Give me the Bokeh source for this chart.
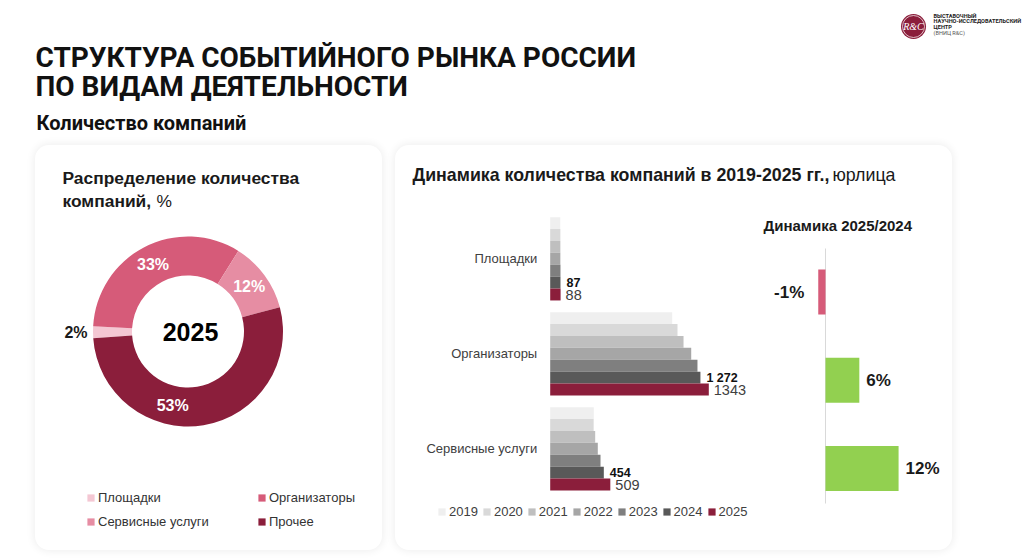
import numpy as np
from bokeh.plotting import figure
from bokeh.models import (ColumnDataSource, FactorRange, Range1d, Legend, LegendItem, Spacer)
from bokeh.layouts import row, column
from bokeh.transform import dodge
from bokeh.core.properties import value
from bokeh.embed import file_html
from bokeh.resources import INLINE

# ---------------- data ----------------
share_labels = ["Площадки", "Организаторы", "Сервисные услуги", "Прочее"]
share_values = [2, 33, 12, 53]
donut_year = "2025"

categories = ["Площадки", "Организаторы", "Сервисные услуги"]
years = ["2019", "2020", "2021", "2022", "2023", "2024", "2025"]
companies_2019 = [85, 1033, 369]
companies_2020 = [86, 1078, 368]
companies_2021 = [86, 1129, 381]
companies_2022 = [86, 1194, 403]
companies_2023 = [87, 1247, 426]
companies_2024 = [87, 1272, 454]
companies_2025 = [88, 1343, 509]
change_2025_2024 = [-1.2, 5.6, 12.1]   # %

# ---------------- styles ----------------
ARIAL = "Liberation Sans"
ROBOTO = "Roboto"
DARK = "#1a1a1a"
share_colors = ["#F4C7D3", "#D65B79", "#E68DA3", "#8B1E3B"]
year_colors = ["#EFEFEF", "#D9D9D9", "#BFBFBF", "#A6A6A6", "#7F7F7F", "#595959", "#8B1E3B"]
card_style = {"background-color": "white", "border-radius": "14px",
              "box-shadow": "0 0 8px 1px rgba(0,0,0,0.07)"}


def canvas(w, h):
    p = figure(width=w, height=h, x_range=Range1d(0, w), y_range=Range1d(0, h),
               toolbar_location=None, output_backend="svg", min_border=0,
               x_axis_location=None, y_axis_location=None, title_location=None)
    p.grid.visible = False
    p.outline_line_color = None
    p.background_fill_color = None
    p.border_fill_color = None
    return p


def txt(p, x, y, s, size, bold=False, color=DARK, font=ARIAL, align="left",
        baseline="middle", style=None):
    p.text(x=[x], y=[y], text=[s], text_font=value(font), text_font_size=size,
           text_font_style=style or ("bold" if bold else "normal"), text_color=color,
           text_align=align, text_baseline=baseline)


def factor_setup(n, frame_h, px_per_cat, top_center_px):
    """padding (applied on each side) of a FactorRange and a dodge shift so that
    the n categories are px_per_cat apart and the first one is top_center_px
    below the frame top."""
    pad = (frame_h / px_per_cat - n) / 2
    end = n + pad
    shift = end - (n - 0.5) - top_center_px / px_per_cat
    return pad, end, shift


# ---------------- header ----------------
H = 145
header = canvas(1024, H)
txt(header, 35, H - 57, "СТРУКТУРА СОБЫТИЙНОГО РЫНКА РОССИИ", "28px", True, "#111111", ROBOTO)
txt(header, 35, H - 85.5, "ПО ВИДАМ ДЕЯТЕЛЬНОСТИ", "28px", True, "#111111", ROBOTO)
txt(header, 36, H - 122, "Количество компаний", "20px", True, "#111111", ROBOTO)
# logo
header.circle(x=[913], y=[H - 26], radius=12.5, fill_color="#8B1E3B", line_color=None)
header.circle(x=[913], y=[H - 26], radius=11, fill_color=None, line_color="white", line_width=0.7)
txt(header, 913, H - 26, "R&C", "10px", False, "white", "Liberation Serif", "center", "middle", "italic")
txt(header, 933, H - 15, "ВЫСТАВОЧНЫЙ", "5.6px", True, "#222222", ROBOTO)
txt(header, 933, H - 20.7, "НАУЧНО-ИССЛЕДОВАТЕЛЬСКИЙ", "5.6px", True, "#222222", ROBOTO)
txt(header, 933, H - 26.3, "ЦЕНТР", "5.6px", True, "#222222", ROBOTO)
txt(header, 933, H - 32.5, "(ВНИЦ R&C)", "5.6px", False, "#555555", ROBOTO)

# ---------------- left card: donut ----------------
LW, LH = 347, 405
left = canvas(LW, LH)
txt(left, 27, LH - 32, "Распределение количества", "17.4px", True)
txt(left, 27, LH - 55, "компаний,", "17.4px", True)
txt(left, 121, LH - 55, "%", "17.4px", False)

cx, cy = 152.5, 219
r_in, r_out = 56, 95
start_cw = 266.0
label_nudge = [0, 0, 0, 21]
label_radius = [112, 76, 76, 76]
label_colors = [DARK, "white", "white", "white"]

vals = np.array(share_values, dtype=float)
ang = vals / vals.sum() * 360.0
c0 = start_cw + np.concatenate([[0.0], np.cumsum(ang)[:-1]])
c1 = c0 + ang
donut_src = ColumnDataSource(dict(name=share_labels, color=share_colors,
                                  start=np.radians(90 - c0), end=np.radians(90 - c1)))
wedges = left.annular_wedge(x=cx, y=cy, inner_radius=r_in, outer_radius=r_out,
                            start_angle="start", end_angle="end", direction="clock",
                            fill_color="color", line_color=None, source=donut_src)
mid = np.radians((c0 + c1) / 2 + np.array(label_nudge))
lab_src = ColumnDataSource(dict(
    x=cx + np.array(label_radius) * np.sin(mid),
    y=cy + np.array(label_radius) * np.cos(mid),
    t=[f"{v}%" for v in share_values], c=label_colors))
left.text(x="x", y="y", text="t", text_color="c", source=lab_src, text_font=value(ARIAL),
          text_font_size="16px", text_font_style="bold", text_align="center",
          text_baseline="middle")
txt(left, 155, cy, donut_year, "25px", True, "#000000", ARIAL, "center", "middle")


def legend_box(items, x, y, orientation="vertical", spacing=9):
    return Legend(items=items, location=(x, y), orientation=orientation,
                  glyph_width=9, glyph_height=9, label_standoff=3, spacing=spacing,
                  label_height=15, padding=0, margin=0, border_line_color=None,
                  background_fill_alpha=0, label_text_font=ARIAL,
                  label_text_font_size="13px", label_text_color="#333333")


li = [LegendItem(label=n, renderers=[wedges], index=i) for i, n in enumerate(share_labels)]
left.add_layout(legend_box([li[0], li[2]], 51, 21))
left.add_layout(legend_box([li[1], li[3]], 222, 21))

# ---------------- right card ----------------
RW = 557
rtitle = canvas(RW, 55)
txt(rtitle, 17, 25.4, "Динамика количества компаний в 2019-2025 гг.,", "17.8px", True)
txt(rtitle, 437, 25.4, "юрлица", "17.8px", False)

FIG_H = 350
BT, BB = 11, 28                  # shared frame borders (top/bottom) of both charts
FRAME_H = FIG_H - BT - BB
n = len(categories)

# --- bar chart (companies by year) ---
px_per_company = 0.1181
bar_left_border = 25
zero_px = 129.7                  # distance of the value axis origin from frame left
bar_w = 357
bar_frame_w = bar_w - bar_left_border
b_pad, b_end, b_shift = factor_setup(n, FRAME_H, 95.0, 47.3)
bar = figure(width=bar_w, height=FIG_H,
             y_range=FactorRange(factors=categories[::-1], range_padding=b_pad,
                                 range_padding_units="absolute"),
             x_range=Range1d(-zero_px / px_per_company, (bar_frame_w - zero_px) / px_per_company),
             toolbar_location=None, output_backend="svg",
             min_border_left=bar_left_border, min_border_right=0, min_border_top=BT,
             min_border_bottom=BB, x_axis_location=None, y_axis_location=None,
             title_location=None)
bar.grid.visible = False
bar.outline_line_color = None
bar.background_fill_color = None
bar.border_fill_color = None

year_values = [companies_2019, companies_2020, companies_2021, companies_2022,
               companies_2023, companies_2024, companies_2025]
step = 0.1253
items = []
cat_src = ColumnDataSource(dict(cat=categories, zero=[0] * n))
bar.text(x="zero", y=dodge("cat", b_shift, range=bar.y_range), text="cat", source=cat_src,
         x_offset=-13, text_align="right", text_baseline="middle", text_font=value(ARIAL),
         text_font_size="13px", text_color="#404040")
for i, (yr, vv, col) in enumerate(zip(years, year_values, year_colors)):
    src = ColumnDataSource(dict(cat=categories, v=vv,
                                lab=[f"{v:,}".replace(",", " ") if yr == "2024" else str(v) for v in vv]))
    yy = dodge("cat", b_shift + (3 - i) * step, range=bar.y_range)
    r = bar.hbar(y=yy, left=0, right="v", height=step, fill_color=col, line_color=None, source=src)
    items.append(LegendItem(label=yr, renderers=[r]))
    if yr == "2024":
        bar.text(x="v", y=yy, text="lab", source=src, x_offset=6, text_baseline="middle",
                 text_font=value(ARIAL), text_font_size="12.5px", text_font_style="bold",
                 text_color="#111111")
    if yr == "2025":
        bar.text(x="v", y=yy, text="lab", source=src, x_offset=5, text_baseline="middle",
                 text_font=value(ARIAL), text_font_size="14.5px", text_color="#404040")

bar_legend = legend_box(items, 17, 3, orientation="horizontal", spacing=4)
bar_legend.label_text_color = "#404040"
bar_legend.label_height = 14
bar.add_layout(bar_legend)

# --- dynamics 2025/2024 ---
px_per_pct = 6.04
dyn_w, dyn_lb, dyn_rb = 200, 8, 7
dyn_zero_px = 65.0
dyn_frame_w = dyn_w - dyn_lb - dyn_rb
d_px = 88.25
d_pad, d_end, d_shift = factor_setup(n, FRAME_H, d_px, 80.5)
dyn = figure(width=dyn_w, height=FIG_H,
             y_range=FactorRange(factors=categories[::-1], range_padding=d_pad,
                                 range_padding_units="absolute"),
             x_range=Range1d(-dyn_zero_px / px_per_pct, (dyn_frame_w - dyn_zero_px) / px_per_pct),
             toolbar_location=None, output_backend="svg",
             min_border_left=dyn_lb, min_border_right=dyn_rb, min_border_top=BT,
             min_border_bottom=BB, x_axis_location=None, y_axis_location=None,
             title_location=None)
dyn.grid.visible = False
dyn.outline_line_color = None
dyn.background_fill_color = None
dyn.border_fill_color = None
dyn.text(x=[-62 / px_per_pct], y=[d_end - 14 / d_px], text=["Динамика 2025/2024"],
         text_font=value(ARIAL), text_font_size="15px", text_font_style="bold",
         text_color=DARK, text_baseline="middle")
dyn.segment(x0=[0], x1=[0], y0=[d_end - 37 / d_px], y1=[d_end - 292 / d_px],
            line_color="#D9D9D9", line_width=1)
dsrc = ColumnDataSource(dict(
    cat=categories, v=change_2025_2024,
    c=["#D65B79" if v < 0 else "#92D050" for v in change_2025_2024],
    t=[f"{round(v):d}%" for v in change_2025_2024],
    a=["right" if v < 0 else "left" for v in change_2025_2024],
    o=[-14 if v < 0 else 7 for v in change_2025_2024]))
dy = dodge("cat", d_shift, range=dyn.y_range)
dyn.hbar(y=dy, left=0, right="v", height=0.51, fill_color="c", line_color=None, source=dsrc)
dyn.text(x="v", y=dy, text="t", text_align="a", x_offset="o", source=dsrc,
         text_baseline="middle", text_font=value(ARIAL), text_font_size="17px",
         text_font_style="bold", text_color=DARK)

left_card = column(left, width=LW, height=LH, styles=card_style)
right_card = column(rtitle, row(bar, dyn), width=RW, height=LH, styles=card_style)

root = column(header,
              row(Spacer(width=35, height=LH), left_card, Spacer(width=13, height=LH), right_card),
              Spacer(width=1024, height=10))

open("out.html", "w").write(file_html(root, INLINE))
